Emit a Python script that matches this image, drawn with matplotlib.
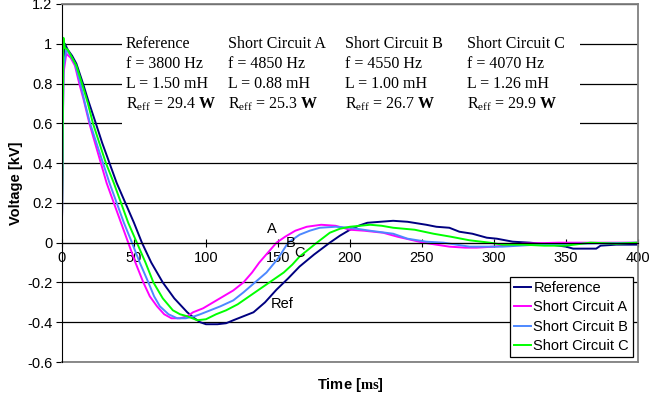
import matplotlib
matplotlib.use("Agg")
import matplotlib.pyplot as plt
from matplotlib.patches import Rectangle
from matplotlib.ticker import FuncFormatter

plt.rcParams['font.family'] = ['Liberation Sans', 'DejaVu Sans']
plt.rcParams['mathtext.fontset'] = 'custom'
plt.rcParams['mathtext.rm'] = 'Liberation Serif'
plt.rcParams['mathtext.bf'] = 'Liberation Serif:bold'

# time [us] / voltage [kV]
ref_t = [0, 1, 2, 4, 7, 10, 14.6, 18, 23.5, 28, 33, 38, 44, 50, 55.5, 62, 70, 78,
         87, 92, 96, 100, 108, 114, 119, 126, 133, 141, 149, 157, 165, 175, 186, 193,
         200, 206, 212, 221, 230, 240, 253, 260, 269, 276, 285, 295, 302, 313, 325,
         340, 350, 355, 365, 371, 374, 385, 400]
ref_v = [0.1, 0.9, 1.0, 0.97, 0.94, 0.9, 0.8, 0.72, 0.6, 0.5, 0.4, 0.3, 0.2, 0.1, 0.0,
         -0.1, -0.2, -0.28, -0.35, -0.38, -0.4, -0.41, -0.41, -0.405, -0.39, -0.37,
         -0.35, -0.3, -0.236, -0.18, -0.12, -0.06, 0.0, 0.035, 0.065, 0.085, 0.1, 0.105,
         0.11, 0.105, 0.09, 0.08, 0.075, 0.055, 0.045, 0.025, 0.02, 0.005, 0.0, -0.01,
         -0.02, -0.03, -0.03, -0.03, -0.015, -0.01, -0.01]

a_t = [0, 1, 3, 6, 9, 12, 15, 19, 23, 27, 31, 36, 41, 46, 51, 56.5, 61, 66, 71, 76,
       82, 87, 91, 98, 105, 112, 119, 126, 132, 137, 143, 149, 155, 162, 170, 180,
       190, 200, 210, 223, 233, 242, 251, 260, 269, 280, 288, 300, 320, 345, 370, 400]
a_v = [0.1, 0.85, 0.95, 0.93, 0.89, 0.8, 0.72, 0.6, 0.5, 0.4, 0.3, 0.2, 0.1, 0.0,
       -0.1, -0.2, -0.27, -0.32, -0.36, -0.38, -0.38, -0.37, -0.35, -0.33, -0.3,
       -0.27, -0.24, -0.2, -0.15, -0.1, -0.05, 0.0, 0.03, 0.06, 0.08, 0.09, 0.085,
       0.065, 0.06, 0.05, 0.03, 0.015, 0.0, -0.01, -0.02, -0.025, -0.025, -0.02,
       -0.005, 0.0, 0.0, 0.0]

b_t = [0, 1, 3, 6, 9, 12.8, 16, 19.5, 24, 28.5, 33, 38, 43, 48.6, 54, 60, 64, 68, 74,
       80, 86, 92, 96, 103, 110, 119, 126, 134, 142, 150, 157, 165, 172, 179, 190,
       200, 214, 230, 240, 253, 265, 283, 306, 330, 360, 400]
b_v = [0.1, 0.88, 0.97, 0.94, 0.9, 0.8, 0.7, 0.6, 0.5, 0.4, 0.3, 0.2, 0.1, 0.0, -0.1,
       -0.2, -0.27, -0.32, -0.36, -0.38, -0.38, -0.37, -0.36, -0.34, -0.32, -0.29,
       -0.25, -0.2, -0.15, -0.08, 0.0, 0.04, 0.06, 0.075, 0.08, 0.075, 0.06, 0.045,
       0.02, 0.005, 0.0, -0.02, -0.02, -0.01, -0.005, 0.0]

c_t = [0, 1, 2, 4, 7, 10, 13.9, 18, 21.5, 26, 30.5, 36, 41, 46, 52, 58, 63.5, 70, 77,
       82, 87, 94, 100, 107, 114, 122, 130, 138, 146, 154, 160, 165, 171, 177, 186,
       193, 200, 207, 214, 222, 230, 245, 258, 270, 283, 297, 306, 320, 335, 350, 367,
       385, 400]
c_v = [0.1, 1.03, 0.98, 0.97, 0.93, 0.89, 0.8, 0.7, 0.6, 0.5, 0.4, 0.3, 0.2, 0.1, 0.0,
       -0.1, -0.2, -0.28, -0.34, -0.36, -0.37, -0.39, -0.385, -0.36, -0.34, -0.31,
       -0.27, -0.23, -0.19, -0.15, -0.11, -0.07, -0.035, 0.0, 0.05, 0.07, 0.08, 0.085,
       0.09, 0.085, 0.075, 0.065, 0.045, 0.03, 0.012, 0.0, -0.01, -0.01, -0.015,
       -0.015, 0.0, -0.005, 0.0]

series_names = ["Reference", "Short Circuit A", "Short Circuit B", "Short Circuit C"]
series_colors = ["#000080", "#ff00ff", "#4d88ff", "#00ff00"]

info_titles = ["Reference", "Short Circuit A", "Short Circuit B", "Short Circuit C"]
info_f = ["3800", "4850", "4550", "4070"]
info_L = ["1.50", "0.88", "1.00", "1.26"]
info_R = ["29.4", "25.3", "26.7", "29.9"]

fig = plt.figure(figsize=(6.49, 3.99), dpi=100)
ax = fig.add_axes([0.0955, 0.0927, 0.8875, 0.8973])

for t, v, name, col in zip([ref_t, a_t, b_t, c_t], [ref_v, a_v, b_v, c_v],
                           series_names, series_colors):
    ax.plot(t, v, color=col, lw=1.4, label=name, zorder=2)

ax.set_xlim(0, 400)
ax.set_ylim(-0.6, 1.2)
ax.set_xticks(range(0, 401, 50))
ax.set_yticks([-0.6, -0.4, -0.2, 0, 0.2, 0.4, 0.6, 0.8, 1.0, 1.2])
ax.yaxis.set_major_formatter(FuncFormatter(lambda y, p: '%g' % round(y, 1)))

ax.set_axisbelow(True)
ax.yaxis.grid(True, color='black', lw=0.9)
ax.xaxis.grid(False)

# white panel behind the circuit parameters hides the gridlines
ax.add_patch(Rectangle((0.104, 0.59), 0.795, 0.36, transform=ax.transAxes,
                       facecolor='white', edgecolor='none', zorder=1))

ax.spines['bottom'].set_position(('data', 0))
ax.spines['bottom'].set_color('black')
ax.spines['left'].set_color('black')
for s in ['top', 'right']:
    ax.spines[s].set_color('#808080')
    ax.spines[s].set_linewidth(1.3)
ax.axhline(-0.6, color='#808080', lw=1.3, clip_on=False)

ax.tick_params(axis='x', direction='inout', length=6, pad=3, labelsize=10.5)
ax.tick_params(axis='y', direction='out', length=4, pad=3, labelsize=10.5)

ax.set_xlabel(r"Time [$\mathbf{ms}$]", fontsize=10.5, fontweight='bold', labelpad=0)
ax.xaxis.set_label_coords(0.5, -0.04)
ax.set_ylabel("Voltage [kV]", fontsize=10.5, fontweight='bold')
ax.yaxis.set_label_coords(-0.067, 0.5)

col_x = [44.4, 115.3, 196.5, 281]
for x, title, f, L, R in zip(col_x, info_titles, info_f, info_L, info_R):
    kw = dict(fontsize=11.5, family=['Liberation Serif'], va='center', ha='left', zorder=3)
    ax.text(x, 1.0, title, **kw)
    ax.text(x, 0.9, "f = %s Hz" % f, **kw)
    ax.text(x, 0.8, "L = %s mH" % L, **kw)
    ax.text(x, 0.695, r"R$_{\mathrm{eff}}$ = %s $\mathbf{W}$" % R, **kw)

for lab, x, y in [("A", 146, 0.07), ("B", 159, 0.0), ("C", 165, -0.05), ("Ref", 153, -0.31)]:
    ax.text(x, y, lab, fontsize=10.5, ha='center', va='center', zorder=3)

leg = ax.legend(loc='lower right', bbox_to_anchor=(0.992, 0.013), borderaxespad=0,
                fontsize=10.5, fancybox=False, edgecolor='black', framealpha=1,
                handlelength=1.15, handletextpad=0.15, labelspacing=0.36,
                borderpad=0.3)
leg.get_frame().set_linewidth(0.9)

fig.savefig("out.png", dpi=100)
